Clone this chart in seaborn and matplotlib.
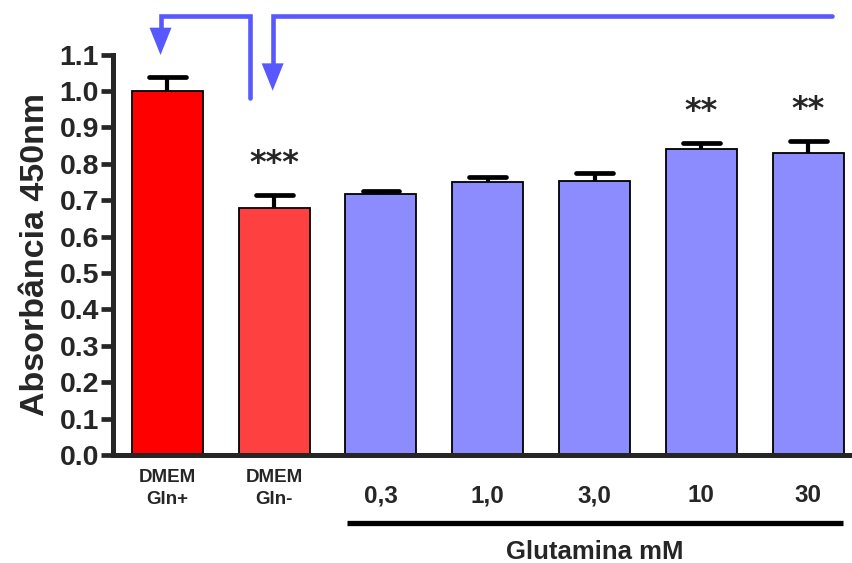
import matplotlib
matplotlib.use("Agg")
import matplotlib.pyplot as plt
import matplotlib.transforms as mtransforms
import numpy as np
import pandas as pd
import seaborn as sns

# ── data ──────────────────────────────────────────────────────────────────
groups = ["DMEM\nGln+", "DMEM\nGln-", "0,3", "1,0", "3,0", "10", "30"]
absorbance = [1.00, 0.678, 0.716, 0.749, 0.753, 0.840, 0.830]
sem = [0.038, 0.036, 0.010, 0.014, 0.022, 0.016, 0.032]
signif = ["", "***", "", "", "", "**", "**"]
bar_colors = ["#FF0000", "#FF4040", "#8C8CFF", "#8C8CFF", "#8C8CFF", "#8C8CFF", "#8C8CFF"]
arrow_color = "#5858FF"

df = pd.DataFrame({"grupo": groups, "abs": absorbance})

sns.set_style("ticks")
plt.rcParams["font.family"] = ["Liberation Sans", "DejaVu Sans"]

fig = plt.figure(figsize=(8.52, 5.63), dpi=100)
ax = fig.add_axes([0.1326, 0.1918, 0.8674, 0.7112])

sns.barplot(
    data=df,
    x="grupo",
    y="abs",
    hue="grupo",
    palette=bar_colors,
    saturation=1,
    width=0.665,
    edgecolor="black",
    linewidth=1.3,
    legend=False,
    ax=ax,
)

# upper error bars only (stem + cap)
xpos = np.arange(len(groups))
err_top = np.add(absorbance, sem)
cap_half = 0.172
ax.vlines(xpos, absorbance, err_top, color="black", lw=3, zorder=3)
ax.hlines(err_top, xpos - cap_half, xpos + cap_half, color="black", lw=3.4,
          zorder=3, capstyle="round")

# significance stars
for x, top, s in zip(xpos, err_top, signif):
    if s:
        ax.text(x, top + 0.088, s, ha="center", va="center",
                fontsize=23, fontweight="bold", family="DejaVu Sans")

# axes styling
ax.set_xlim(-0.509, 6.41)
ax.set_ylim(0, 1.1)
ax.set_yticks(np.round(np.arange(0, 1.11, 0.1), 1))
ax.yaxis.set_major_formatter(matplotlib.ticker.FormatStrFormatter("%.1f"))
for s in ["top", "right"]:
    ax.spines[s].set_visible(False)
for s in ["left", "bottom"]:
    ax.spines[s].set_linewidth(3.6)
ax.tick_params(axis="y", length=9, width=3.4, labelsize=20.5, pad=1)
ax.tick_params(axis="x", length=0, pad=10)
for lab in ax.get_yticklabels():
    lab.set_fontweight("bold")

ax.set_xlabel("")
ax.set_ylabel("Absorbância 450nm", fontsize=24.5, fontweight="bold", labelpad=6)

# x tick labels: two-line DMEM labels smaller, numbers shifted down
shift = mtransforms.ScaledTranslation(0, -11 / 72, fig.dpi_scale_trans)
for lab in ax.get_xticklabels():
    lab.set_fontweight("bold")
    if "DMEM" in lab.get_text():
        lab.set_fontsize(13.5)
        lab.set_linespacing(1.4)
    else:
        lab.set_fontsize(17.5)
        lab.set_transform(lab.get_transform() + shift)

# bracket under glutamine concentrations
ax.plot([1.68, 6.33], [-0.187, -0.187], color="black", lw=3.8,
        clip_on=False, solid_capstyle="butt")
ax.text(4.0, -0.266, "Glutamina mM", ha="center", va="center",
        fontsize=18.5, fontweight="bold")

# arrows above the bars
top_y = 1.207
head_w, head_h = 0.103, 0.075
lw = 3.3
# left arrow: from separator down onto DMEM Gln+
ax.plot([0.778, 0.778, -0.064, -0.064], [0.981, top_y, top_y, 1.099 + head_h],
        color=arrow_color, lw=lw, clip_on=False, solid_joinstyle="miter")
ax.fill([-0.064 - head_w, -0.064 + head_w, -0.064],
        [1.099 + head_h, 1.099 + head_h, 1.099],
        color=arrow_color, clip_on=False, lw=0)
# right arrow: from the glutamine group onto DMEM Gln-
ax.plot([6.22, 0.986, 0.986], [top_y, top_y, 1.001 + head_h],
        color=arrow_color, lw=lw, clip_on=False, solid_joinstyle="miter")
ax.fill([0.986 - head_w, 0.986 + head_w, 0.986],
        [1.001 + head_h, 1.001 + head_h, 1.001],
        color=arrow_color, clip_on=False, lw=0)

fig.savefig("out.png", dpi=100)
